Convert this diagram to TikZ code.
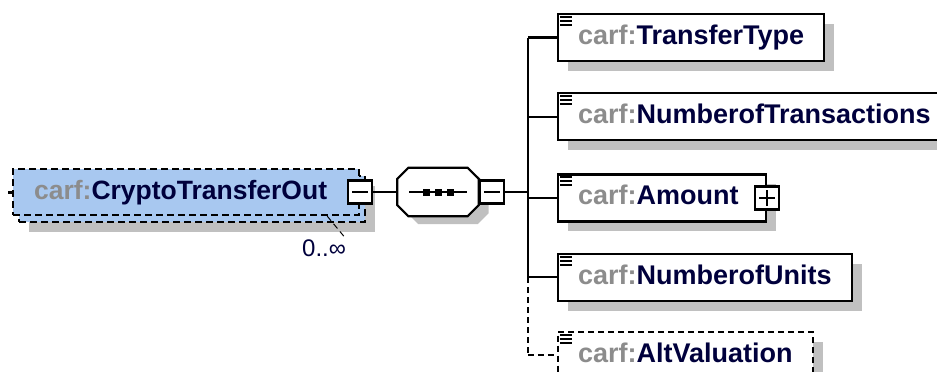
\documentclass[tikz,border=0pt]{standalone}
\usepackage{fontspec}
\setmainfont{Liberation Sans}
\usepackage{tikz}
\usepackage{xcolor}
\usetikzlibrary{positioning, shadows}

\definecolor{elemblue}{HTML}{A8C8F0}
\definecolor{prefixgray}{HTML}{8C8C8C}
\definecolor{namenavy}{HTML}{00003C}
\definecolor{shadowgray}{HTML}{C0C0C0}

\newcommand{\carf}[1]{\textbf{\textcolor{prefixgray}{carf:}\textcolor{namenavy}{#1}}}

\tikzset{
  wire/.style={line width=2.2pt},
  optline/.style={wire, dash pattern=on 6pt off 4pt},
  boxshadow/.style={drop shadow={shadow xshift=10pt, shadow yshift=-10pt, fill=shadowgray, opacity=1}},
  element/.style={draw, wire, fill=elemblue, dash pattern=on 7pt off 4pt, text width=304pt, inner xsep=21pt, inner ysep=0pt, minimum height=46pt, text height=20pt, text depth=6pt, align=left, font=\fontsize{26.5}{32}\selectfont},
  child/.style={draw, wire, fill=white, boxshadow, inner xsep=20pt, inner ysep=0pt, minimum height=47pt, text height=20pt, text depth=6pt, font=\fontsize{27}{32}\selectfont},
  optchild/.style={child, dash pattern=on 6pt off 4pt},
  toggle/.style={draw, wire, fill=white, minimum width=24pt, minimum height=23pt, inner sep=0pt},
  minus/.style={toggle, path picture={\draw[wire] ([xshift=-8pt]path picture bounding box.center) -- ([xshift=8pt]path picture bounding box.center);}},
  plus/.style={toggle, path picture={\draw[wire] ([xshift=-8pt]path picture bounding box.center) -- ([xshift=8pt]path picture bounding box.center) ([yshift=-8pt]path picture bounding box.center) -- ([yshift=8pt]path picture bounding box.center);}},
  seqshade/.style={fill=shadowgray},
  seqbody/.style={draw, wire, fill=white},
}

\begin{document}
\begin{tikzpicture}[x=1pt, y=-1pt]
\useasboundingbox (0,0) rectangle (937,372);

% Repeated element (stacked copy behind the front one)
\node[element, boxshadow, anchor=west] (mainback) at (18,199) {};
\node[element, anchor=west] (main) at (12,192) {\carf{CryptoTransferOut}};
\node[minus] (mainbtn) at (main.east) {};
\draw[line width=3pt] ([xshift=-4pt]main.west) -- (main.west);

% Occurrence
\node[inner sep=0pt, text=namenavy, font=\fontsize{24}{28}\selectfont, below left=16pt and 20pt of mainback.south east] (occ) {0..∞};
\draw[optline, line width=1pt] ([xshift=-33pt]main.south east) -- (occ.north east);

% Sequence compositor (octagon with shadow)
\node[right=24pt of mainbtn, minimum width=81pt, minimum height=48pt, inner sep=0pt] (seq) {};
\draw[wire] (mainbtn) -- (seq);
\foreach \o/\st in {{(10pt,-8pt)}/seqshade, {(0pt,0pt)}/seqbody}
  \path[\st] ([shift={\o}, xshift=11pt]seq.north west) -- ([shift={\o}, xshift=-11pt]seq.north east)
    -- ([shift={\o}, yshift=-11pt]seq.north east) -- ([shift={\o}, yshift=11pt]seq.south east)
    -- ([shift={\o}, xshift=-11pt]seq.south east) -- ([shift={\o}, xshift=11pt]seq.south west)
    -- ([shift={\o}, yshift=11pt]seq.south west) -- ([shift={\o}, yshift=-11pt]seq.north west) -- cycle;
\draw[wire] ([xshift=12pt]seq.west) -- ([xshift=-12pt]seq.east);
\foreach \dx in {-12,0,12}
  \fill ([xshift=\dx pt]seq.center) +(-3.5pt,-3.5pt) rectangle +(3.5pt,3.5pt);
\node[minus, right=0pt of seq] (seqbtn) {};
\coordinate[right=23pt of seqbtn] (bus);
\draw[wire] (seqbtn) -- (bus);

% Sequence members
\node[child, anchor=west] (tt) at (557,37.5) {\carf{TransferType}};
\node[child, below=30pt of tt.south west, anchor=north west] (nt) {\carf{NumberofTransactions}};
\node[child, text width=168pt, align=left, below=32pt of nt.south west, anchor=north west] (amt) {\carf{Amount}};
\node[plus] (amtbtn) at (amt.east) {};
\node[child, below=30pt of amt.south west, anchor=north west] (nu) {\carf{NumberofUnits}};
\node[optchild, below=29pt of nu.south west, anchor=north west] (alt) {\carf{AltValuation}};

% Bus to the members (last one optional)
\draw[wire] (bus |- tt.west) -- (bus |- nu.west);
\draw[optline] (bus |- nu.west) -- (bus |- alt.west);
\foreach \n in {tt,nt,amt,nu}
  \draw[wire] (bus |- \n.west) -- (\n.west);
\draw[optline] (bus |- alt.west) -- (alt.west);

% Type icons
\foreach \n in {tt,nt,amt,nu,alt}
  \foreach \dy in {4,8,12}
    \draw[line width=2pt] ([shift={(3pt,-\dy pt)}]\n.north west) -- ++(12pt,0);
\end{tikzpicture}
\end{document}
